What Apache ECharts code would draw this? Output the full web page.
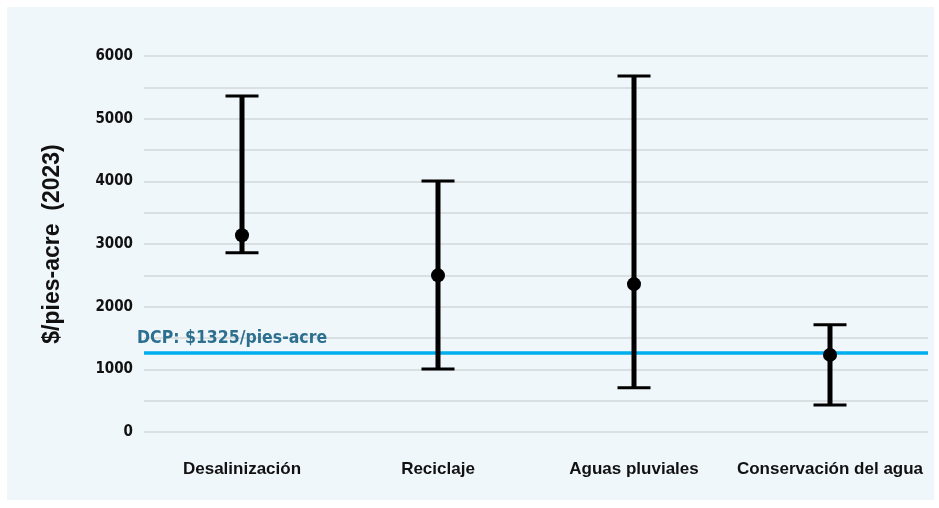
<!DOCTYPE html>
<html>
<head>
<meta charset="utf-8">
<script src="https://cdn.jsdelivr.net/npm/echarts@6/dist/echarts.min.js"></script>
<style>
  html, body { margin: 0; padding: 0; background: #ffffff; }
  #main { width: 939px; height: 508px; }
</style>
</head>
<body>
<div id="main"></div>
<script>
var categories = ['Desalinización', 'Reciclaje', 'Aguas pluviales', 'Conservación del agua'];
var lowValues = [2860, 1005, 705, 430];
var highValues = [5360, 4005, 5680, 1710];
var midValues = [3140, 2500, 2360, 1230];
var dcpValue = 1270;
var dcpLabel = 'DCP: $1325/pies-acre';
var yTicks = [0, 1000, 2000, 3000, 4000, 5000, 6000];

var narrow = '"DejaVu Sans Condensed", "Liberation Sans Narrow", sans-serif';
var sans = '"Liberation Sans", Arial, sans-serif';

var barData = categories.map(function (c, i) { return [i, lowValues[i], highValues[i]]; });
var dotData = categories.map(function (c, i) { return [i, midValues[i]]; });

var myChart = echarts.init(document.getElementById('main'));

myChart.setOption({
    backgroundColor: '#ffffff',
    graphic: [{
        type: 'rect',
        z: -10,
        silent: true,
        shape: { x: 7, y: 7, width: 927, height: 493 },
        style: { fill: '#f0f7fb' }
    }],
    grid: { left: 144, right: 11, top: 56, bottom: 76 },
    xAxis: {
        type: 'category',
        data: categories,
        axisLine: { show: false },
        axisTick: { show: false },
        axisLabel: {
            interval: 0,
            margin: 29,
            color: '#111',
            fontFamily: sans,
            fontWeight: 'bold',
            fontSize: 17
        }
    },
    yAxis: {
        type: 'value',
        min: 0,
        max: 6000,
        interval: 500,
        name: '$/pies-acre  (2023)',
        nameLocation: 'middle',
        nameGap: 80,
        nameTextStyle: {
            fontFamily: sans,
            fontWeight: 'bold',
            fontSize: 23,
            color: '#111'
        },
        axisLine: { show: false },
        axisTick: { show: false },
        splitLine: { lineStyle: { color: '#d3d7da', width: 1.5 } },
        axisLabel: {
            margin: 11,
            color: '#111',
            fontFamily: narrow,
            fontWeight: 'bold',
            fontSize: 15,
            formatter: function (v) { return yTicks.indexOf(v) >= 0 ? String(v) : ''; }
        }
    },
    series: [{
        type: 'custom',
        data: barData,
        z: 5,
        renderItem: function (params, api) {
            var top = api.coord([api.value(0), api.value(2)]);
            var bot = api.coord([api.value(0), api.value(1)]);
            var hw = 16.5;
            return {
                type: 'group',
                children: [
                    { type: 'line', shape: { x1: top[0], y1: top[1], x2: bot[0], y2: bot[1] }, style: { stroke: '#000', lineWidth: 5 } },
                    { type: 'line', shape: { x1: top[0] - hw, y1: top[1], x2: top[0] + hw, y2: top[1] }, style: { stroke: '#000', lineWidth: 3 } },
                    { type: 'line', shape: { x1: bot[0] - hw, y1: bot[1], x2: bot[0] + hw, y2: bot[1] }, style: { stroke: '#000', lineWidth: 3 } }
                ]
            };
        }
    }, {
        type: 'scatter',
        data: dotData,
        z: 6,
        symbol: 'circle',
        symbolSize: 14,
        itemStyle: { color: '#000', opacity: 1 },
        markLine: {
            silent: true,
            symbol: 'none',
            z: 4,
            lineStyle: { color: '#00aeef', width: 3.5, type: 'solid' },
            label: {
                show: true,
                position: 'insideStartTop',
                formatter: dcpLabel,
                color: '#2d6f8f',
                fontFamily: narrow,
                fontWeight: 'bold',
                fontSize: 17.5,
                distance: [-7, 5]
            },
            data: [{ yAxis: dcpValue }]
        }
    }]
});
</script>
</body>
</html>
